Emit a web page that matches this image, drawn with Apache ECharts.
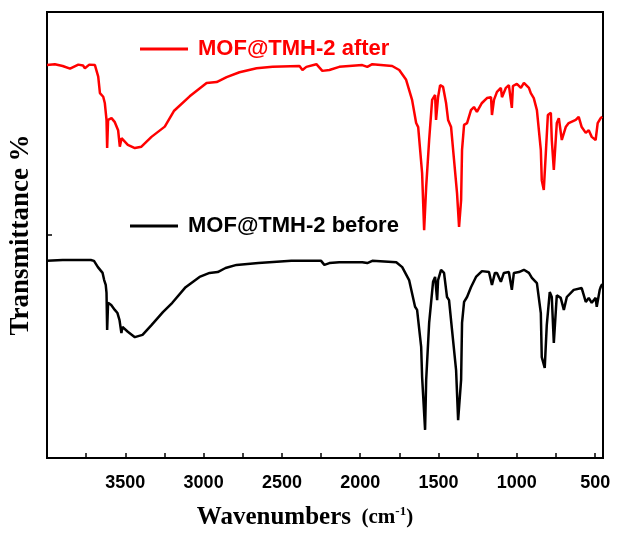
<!DOCTYPE html>
<html>
<head>
<meta charset="utf-8">
<script src="https://cdn.jsdelivr.net/npm/echarts@6/dist/echarts.min.js"></script>
<style>
  html, body { margin: 0; padding: 0; background: #fff; }
  #chart { width: 617px; height: 547px; }
</style>
</head>
<body>
<div id="chart"></div>
<script>
// FTIR spectra, transmittance in arbitrary units
var afterWn = [4000,3950,3900,3853,3800,3770,3758,3730,3694,3673,
  3662,3641,3631,3620,3616,3610,3588,3567,3546,3535,
  3524,3484,3439,3397,3333,3248,3190,3089,2981,2917,
  2853,2771,2662,2560,2388,2369,2344,2280,2242,2197,
  2134,1987,1955,1923,1796,1751,1707,1669,1643,1630,
  1605,1592,1579,1560,1541,1522,1516,1503,1490,1471,
  1452,1439,1420,1401,1382,1369,1356,1350,1337,1318,
  1293,1274,1255,1223,1191,1165,1159,1146,1127,1102,
  1095,1070,1051,1032,1025,1000,974,955,923,911,
  892,872,847,841,828,815,802,783,777,764,
  745,732,713,688,669,624,605,586,560,541,
  522,497,484,465,455];
var afterT = [88.1,88.3,87.9,87.3,88.2,88.0,87.4,88.2,88.1,85.5,
  81.8,81.0,79.6,75.8,69.5,75.8,76.2,75.3,73.5,69.8,
  71.7,70.2,69.5,69.8,72.0,74.3,77.8,81.1,84.1,84.3,
  85.4,86.5,87.4,87.7,87.9,87.0,87.7,88.3,86.8,87.0,
  87.7,88.1,87.7,88.3,87.9,87.0,84.8,80.3,75.1,74.2,
  63.9,51.1,60.8,71.3,80.3,81.4,75.8,80.9,83.6,83.2,
  79.6,75.8,74.2,66.8,59.4,51.8,57.8,69.1,74.7,75.1,
  78.0,78.7,77.6,79.6,80.7,80.9,76.9,80.3,82.1,83.0,
  80.9,83.0,83.6,78.5,83.4,83.9,83.0,84.1,83.0,81.8,
  80.7,78.0,69.1,62.3,60.1,68.4,76.9,77.4,71.3,64.6,
  75.1,76.2,71.3,74.2,75.1,75.8,76.5,74.2,72.9,73.5,
  72.0,71.3,75.1,76.2,76.5];

var beforeWn = [4000,3900,3800,3720,3700,3675,3645,3635,3625,3620,
  3616,3610,3590,3567,3550,3537,3525,3518,3484,3439,
  3390,3333,3260,3200,3115,3026,2962,2910,2860,2790,
  2650,2440,2250,2229,2197,2134,1987,1955,1923,1770,
  1732,1688,1650,1637,1611,1605,1586,1579,1560,1535,
  1522,1509,1503,1484,1465,1446,1433,1414,1388,1375,
  1356,1350,1337,1318,1293,1261,1223,1178,1159,1140,
  1127,1102,1083,1051,1032,1019,987,955,923,904,
  872,847,841,822,809,790,777,764,745,720,
  700,681,637,586,560,541,522,497,490,471,
  465,455];
var beforeT = [44.2,44.4,44.4,44.4,44.2,42.8,41.5,39.9,38.8,37.0,
  28.7,34.8,34.3,33.2,32.5,30.9,28.0,29.4,28.3,27.1,
  27.6,29.8,32.7,34.8,38.3,40.6,41.5,41.7,42.6,43.3,
  43.7,44.2,44.2,43.3,43.7,43.9,43.9,43.7,44.2,43.9,
  42.8,39.9,33.9,33.2,24.9,18.2,6.3,17.5,30.3,39.5,
  40.6,35.4,39.9,42.2,41.5,36.1,35.4,28.7,19.7,8.5,
  17.5,30.3,35.0,36.1,38.3,40.6,41.9,41.7,38.8,41.5,
  41.5,39.5,41.5,41.7,37.7,41.5,41.7,42.2,41.5,40.4,
  39.2,32.5,22.6,20.2,29.8,37.2,36.1,25.8,36.5,35.9,
  33.2,36.1,37.7,38.1,35.0,35.9,34.8,35.9,33.9,37.7,
  38.3,39.0];

var xLabels = [500,1000,1500,2000,2500,3000,3500];
var xTicks = [500,750,1000,1250,1500,1750,2000,2250,2500,2750,3000,3250,3500,3750];

var names = ['MOF@TMH-2 after', 'MOF@TMH-2 before'];

function zip(xs, ys) {
  var out = [];
  for (var i = 0; i < xs.length; i++) out.push([xs[i], ys[i]]);
  return out;
}

var chart = echarts.init(document.getElementById('chart'));

var legendText = { fontSize: 22, fontWeight: 'bold', fontFamily: 'Liberation Sans', padding: [0, 0, 0, 5] };

var option = {
  animation: false,
  backgroundColor: '#fff',
  grid: {
    left: 47, right: 14, top: 12, bottom: 89,
    show: true, borderColor: '#000', borderWidth: 2
  },
  legend: [{
    data: [names[0]],
    left: 135, top: 33,
    icon: 'rect',
    itemWidth: 48, itemHeight: 3,
    selectedMode: false,
    textStyle: Object.assign({ color: '#ff0000' }, legendText)
  }, {
    data: [names[1]],
    left: 125, top: 210,
    icon: 'rect',
    itemWidth: 48, itemHeight: 3,
    selectedMode: false,
    textStyle: Object.assign({ color: '#000' }, legendText)
  }],
  xAxis: {
    type: 'value',
    inverse: true,
    min: 450,
    max: 4000,
    splitLine: { show: false },
    axisLine: { lineStyle: { color: '#000', width: 2 } },
    axisTick: { inside: true, length: 5, customValues: xTicks, lineStyle: { color: '#000', width: 1.5 } },
    axisLabel: {
      customValues: xLabels,
      formatter: function (v) { return String(v); },
      margin: 16,
      color: '#000',
      fontSize: 18,
      fontWeight: 'bold',
      fontFamily: 'Liberation Sans'
    },
    name: '{a|Wavenumbers}{b|  (cm}{s|-1}{b|)}',
    nameLocation: 'middle',
    nameGap: 47,
    nameTextStyle: {
      padding: [0, 40, 0, 0],
      rich: {
        a: { fontSize: 25, fontWeight: 'bold', fontFamily: 'Liberation Serif', color: '#000' },
        b: { fontSize: 21, fontWeight: 'bold', fontFamily: 'Liberation Serif', color: '#000' },
        s: { fontSize: 13, fontWeight: 'bold', fontFamily: 'Liberation Serif', color: '#000', verticalAlign: 'top', padding: [0, 0, 8, 0] }
      }
    }
  },
  yAxis: {
    type: 'value',
    min: 0,
    max: 100,
    interval: 50,
    splitLine: { show: false },
    axisLine: { lineStyle: { color: '#000', width: 2 } },
    axisTick: { inside: true, length: 5, lineStyle: { color: '#000', width: 1.5 } },
    axisLabel: { show: false },
    name: 'Transmittance %',
    nameLocation: 'middle',
    nameGap: 12,
    nameTextStyle: { fontSize: 27, fontWeight: 'bold', fontFamily: 'Liberation Serif', color: '#000' }
  },
  series: [{
    name: names[0],
    type: 'line',
    data: zip(afterWn, afterT),
    symbol: 'none',
    color: '#ff0000',
    lineStyle: { color: '#ff0000', width: 2.5 }
  }, {
    name: names[1],
    type: 'line',
    data: zip(beforeWn, beforeT),
    symbol: 'none',
    color: '#000',
    lineStyle: { color: '#000', width: 2.5 }
  }]
};

chart.setOption(option);
</script>
</body>
</html>
